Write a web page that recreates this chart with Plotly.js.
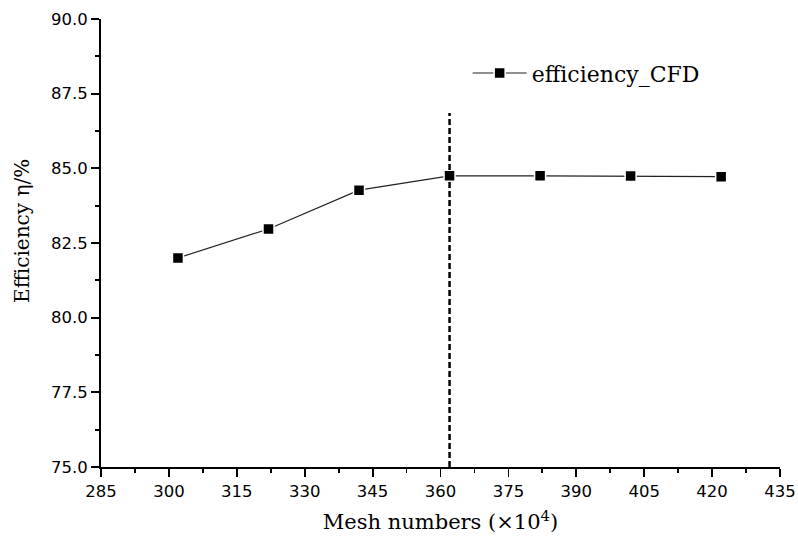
<!DOCTYPE html>
<html>
<head>
<meta charset="utf-8">
<script src="https://cdn.plot.ly/plotly-3.0.1.min.js"></script>
<style>html,body{margin:0;padding:0;background:#fff;}#chart{width:798px;height:536px;}</style>
</head>
<body>
<div id="chart"></div>
<script>
var meshNumbers = [302, 322, 342, 362, 382, 402, 422];
var efficiency = [82.0, 82.97, 84.27, 84.75, 84.75, 84.74, 84.72];
var seriesName = 'efficiency_CFD';
var cutoffX = [362, 362];
var cutoffY = [75, 86.85];
var xTicks = [285, 300, 315, 330, 345, 360, 375, 390, 405, 420, 435];
var yTicks = [75.0, 77.5, 80.0, 82.5, 85.0, 87.5, 90.0];

var serif = 'DejaVu Serif, Liberation Serif, serif';
var sans = 'DejaVu Sans, Liberation Sans, sans-serif';

var traces = [
  {
    x: meshNumbers, y: efficiency, name: seriesName,
    type: 'scatter', mode: 'lines+markers',
    line: {color: '#222222', width: 1.2},
    marker: {symbol: 'square', size: 11, color: '#000000', line: {color: '#ffffff', width: 1.5}},
    showlegend: true
  },
  {
    x: cutoffX, y: cutoffY, type: 'scatter', mode: 'lines',
    line: {color: '#000000', width: 2.5, dash: '6px,3px'},
    showlegend: false, hoverinfo: 'skip'
  }
];

var layout = {
  width: 798, height: 536,
  margin: {l: 101, r: 18, t: 19, b: 69},
  paper_bgcolor: '#ffffff', plot_bgcolor: '#ffffff',
  showlegend: true,
  legend: {
    x: 0.54, y: 0.879, xanchor: 'left', yanchor: 'middle',
    font: {family: serif, size: 22, color: '#000'},
    bgcolor: 'rgba(0,0,0,0)', traceorder: 'normal', itemwidth: 54
  },
  annotations: [{
    text: 'Efficiency η/%', xref: 'paper', yref: 'paper',
    x: -0.1163, y: 0.527, xanchor: 'center', yanchor: 'middle',
    textangle: -90, showarrow: false,
    font: {family: serif, size: 20, color: '#000'}
  }],
  xaxis: {
    range: [285, 435], tickvals: xTicks, ticktext: xTicks.map(String),
    showgrid: false, zeroline: false,
    showline: true, linecolor: '#000', linewidth: 2,
    ticks: 'outside', ticklen: 8, tickwidth: 1.8, tickcolor: '#000',
    minor: {dtick: 7.5, tick0: 285, ticks: 'outside', ticklen: 4, tickwidth: 1.8, tickcolor: '#000'},
    tickfont: {family: sans, size: 16.5, color: '#000'},
    title: {text: 'Mesh numbers (×10<sup>4</sup>)', standoff: 15,
            font: {family: serif, size: 21, color: '#000'}}
  },
  yaxis: {
    range: [75, 90], tickvals: yTicks, ticktext: yTicks.map(function(v){return v.toFixed(1);}),
    showgrid: false, zeroline: false,
    showline: true, linecolor: '#000', linewidth: 2,
    ticks: 'outside', ticklen: 8, tickwidth: 1.8, tickcolor: '#000',
    minor: {dtick: 1.25, tick0: 75, ticks: 'outside', ticklen: 4, tickwidth: 1.8, tickcolor: '#000'},
    tickfont: {family: sans, size: 16.5, color: '#000'}
  }
};

Plotly.newPlot('chart', traces, layout, {displayModeBar: false, staticPlot: true});
</script>
</body>
</html>
